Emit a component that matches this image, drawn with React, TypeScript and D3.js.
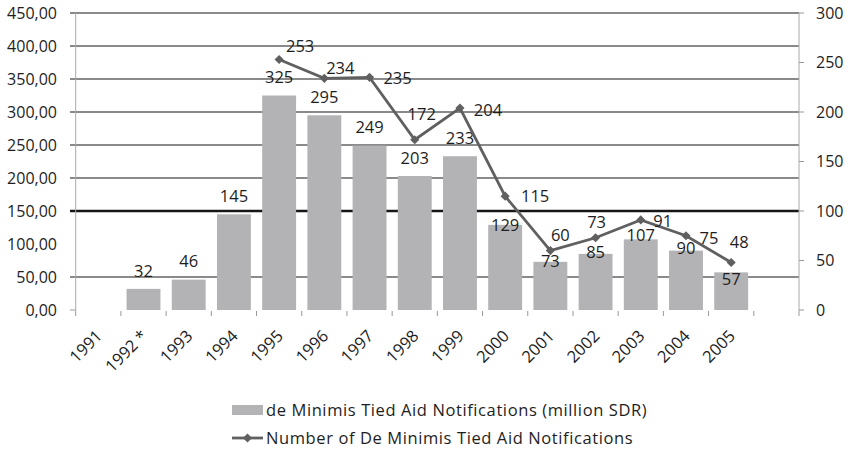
import React from "react";
import * as d3 from "d3";

const years = ["1991", "1992 *", "1993", "1994", "1995", "1996", "1997", "1998", "1999", "2000", "2001", "2002", "2003", "2004", "2005"];
const amounts: (number | null)[] = [null, 32, 46, 145, 325, 295, 249, 203, 233, 129, 73, 85, 107, 90, 57];
const counts: (number | null)[] = [null, null, null, null, 253, 234, 235, 172, 204, 115, 60, 73, 91, 75, 48];
const leftTicks = [0, 50, 100, 150, 200, 250, 300, 350, 400, 450];
const rightTicks = [0, 50, 100, 150, 200, 250, 300];
const barSeriesName = "de Minimis Tied Aid Notifications (million SDR)";
const lineSeriesName = "Number of De Minimis Tied Aid Notifications";

// label placement (pixel offsets of label centres from the mark)
const barLabelDy = [0, -18, -18, -18, -18, -18, -18, -18, -18, 0, -1, -2, -4, -2, 7];
const lineLabelOffset: [number, number][] = [
  [0, 0], [0, 0], [0, 0], [0, 0],
  [21, -13], [16, -10], [28, 1], [7, -25], [28, 2], [30, 0], [10, -15], [1, -16], [22, 1], [23, 2], [8, -20],
];

const W = 854, H = 450;
const FONT = "'Open Sans', sans-serif";
const TEXT = "#1e1e1e";
const BAR = "#b3b3b5";
const LINE = "#606060";

export default function App() {
  const domain = [...years, ""];
  const x = d3.scaleBand<string>().domain(domain).range([75.7, 799]).paddingInner(0.25).paddingOuter(0.125);
  const yL = d3.scaleLinear().domain([0, 450]).range([310, 13]);
  const yR = d3.scaleLinear().domain([0, 300]).range([310, 13]);
  const step = x.step();
  const bw = x.bandwidth();
  const cx = (d: string) => (x(d) as number) + bw / 2;
  const boundary = (i: number) => (x(domain[0]) as number) - (step - bw) / 2 + i * step;

  const linePts = years
    .map((y, i) => ({ y, v: counts[i], i }))
    .filter((d) => d.v != null) as { y: string; v: number; i: number }[];
  const lineGen = d3.line<{ y: string; v: number }>().x((d) => cx(d.y)).y((d) => yR(d.v));
  const diamond = d3.symbol(d3.symbolSquare, 42)() as string;

  const left = 70, right = x.range()[1];

  return (
    <svg width={W} height={H} style={{ position: "absolute", left: 0, top: 0, background: "#fff" }} fontFamily={FONT}>
      {/* gridlines */}
      {leftTicks.filter((t) => t !== 0 && t !== 100).map((t) => (
        <line key={t} x1={left} x2={right} y1={yL(t)} y2={yL(t)} stroke="#161616" strokeWidth={t === 150 ? 2.4 : 1.2} />
      ))}
      <line x1={left} x2={76} y1={yL(0)} y2={yL(0)} stroke="#999" />
      {/* axes */}
      <line x1={75.7} x2={75.7} y1={13} y2={311} stroke="#aaa" />
      <line x1={right} x2={right} y1={13} y2={311} stroke="#aaa" />
      {rightTicks.map((t) => (
        <line key={t} x1={right} x2={right + 5} y1={yR(t)} y2={yR(t)} stroke="#999" />
      ))}
      {domain.concat(["end"]).map((_, i) => (
        <line key={i} x1={boundary(i)} x2={boundary(i)} y1={311} y2={316} stroke="#999" />
      ))}
      {/* left tick labels */}
      {leftTicks.map((t) => (
        <text key={t} x={57} y={yL(t)} dy="0.35em" textAnchor="end" fontSize={16} fill={TEXT}>
          {d3.format(".2f")(t).replace(".", ",")}
        </text>
      ))}
      {rightTicks.map((t) => (
        <text key={t} x={816} y={yR(t)} dy="0.35em" textAnchor="start" fontSize={16} fill={TEXT}>
          {t}
        </text>
      ))}
      {/* bars */}
      {years.map((y, i) =>
        amounts[i] == null ? null : (
          <rect key={y} x={x(y)} y={yL(amounts[i] as number)} width={bw} height={yL(0) - yL(amounts[i] as number)} fill={BAR} />
        )
      )}
      {/* bar labels */}
      {years.map((y, i) =>
        amounts[i] == null ? null : (
          <text key={y} x={cx(y)} y={yL(amounts[i] as number) + barLabelDy[i]} dy="0.35em" textAnchor="middle" fontSize={16.5} fill={TEXT}>
            {amounts[i]}
          </text>
        )
      )}
      {/* line */}
      <path d={lineGen(linePts) as string} fill="none" stroke={LINE} strokeWidth={2.8} />
      {linePts.map((d) => (
        <path key={d.y} d={diamond} transform={`translate(${cx(d.y)},${yR(d.v)}) rotate(45)`} fill={LINE} />
      ))}
      {linePts.map((d) => (
        <text key={d.y} x={cx(d.y) + lineLabelOffset[d.i][0]} y={yR(d.v) + lineLabelOffset[d.i][1]} dy="0.35em" textAnchor="middle" fontSize={16.5} fill={TEXT}>
          {d.v}
        </text>
      ))}
      {/* x labels */}
      {years.map((y) => (
        <text key={y} transform={`translate(${cx(y) + 5},${337}) rotate(-45)`} textAnchor="end" fontSize={16.5} fill={TEXT}>
          {y}
        </text>
      ))}
      {/* legend */}
      <rect x={232} y={405} width={31} height={10} fill={BAR} />
      <text x={266} y={410} dy="0.35em" fontSize={16.5} letterSpacing={0.6} fill={TEXT}>{barSeriesName}</text>
      <line x1={232} x2={263} y1={438} y2={438} stroke={LINE} strokeWidth={2.8} />
      <path d={diamond} transform={`translate(247.5,438) rotate(45)`} fill={LINE} />
      <text x={266} y={438} dy="0.35em" fontSize={16.5} letterSpacing={0.6} fill={TEXT}>{lineSeriesName}</text>
    </svg>
  );
}
